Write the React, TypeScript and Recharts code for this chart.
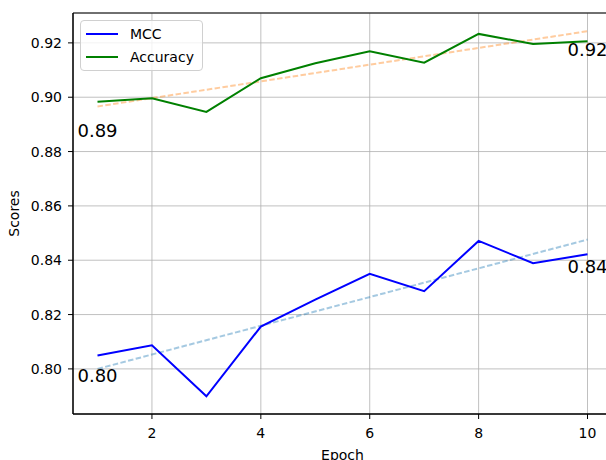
import React from 'react';
import {
  LineChart, Line, XAxis, YAxis, CartesianGrid, ReferenceArea, ReferenceDot,
} from 'recharts';

const epochs = [1, 2, 3, 4, 5, 6, 7, 8, 9, 10];
const mcc = [0.8049, 0.8087, 0.7899, 0.8156, 0.8255, 0.8350, 0.8286, 0.8471, 0.8389, 0.8422];
const accuracy = [0.8983, 0.8996, 0.8946, 0.9070, 0.9125, 0.9169, 0.9127, 0.9233, 0.9196, 0.9206];

// dashed trend lines, read at first and last epoch
const trendEpochs = [1, 10];
const mccTrend = [0.8000, 0.8476];
const accTrend = [0.8966, 0.9243];

const annotX = [1, 10, 1, 10];
const annotY = [0.89, 0.92, 0.80, 0.84];
const annotText = ['0.89', '0.92', '0.80', '0.84'];

const xTicks = [2, 4, 6, 8, 10];
const yTicks = [0.80, 0.82, 0.84, 0.86, 0.88, 0.90, 0.92];
const xDomain = [0.55, 10.45];
const yDomain = [0.7834, 0.931];

const series = [
  { key: 'mcc', name: 'MCC', color: '#0000ff' },
  { key: 'acc', name: 'Accuracy', color: '#008000' },
];

const data = epochs.map((e, i) => ({ epoch: e, mcc: mcc[i], acc: accuracy[i] }));
const mccTrendData = trendEpochs.map((e, i) => ({ epoch: e, v: mccTrend[i] }));
const accTrendData = trendEpochs.map((e, i) => ({ epoch: e, v: accTrend[i] }));

const FONT = 'DejaVu Sans, sans-serif';

function AnnotLabel({ viewBox, text }: any) {
  const x = viewBox.x + (viewBox.width || 0) / 2;
  const y = viewBox.y;
  return (
    <text x={x} y={y + 13} textAnchor="middle" fontSize={18} fontFamily={FONT} fill="#000">
      {text}
    </text>
  );
}

function LegendBox() {
  return (
    <div style={{
      position: 'absolute', left: 80, top: 20, width: 121, height: 49,
      border: '1px solid #d0d0d0', borderRadius: 4, background: 'rgba(255,255,255,0.8)',
      fontFamily: FONT, fontSize: 14, color: '#000',
    }}>
      {series.map((s, i) => (
        <div key={s.key} style={{ position: 'absolute', left: 0, top: 5 + i * 23, height: 16, display: 'flex', alignItems: 'center' }}>
          <svg width={40} height={16} style={{ display: 'block' }}>
            <line x1={5} x2={37} y1={8} y2={8} stroke={s.color} strokeWidth={2} />
          </svg>
          <span style={{ marginLeft: 9, lineHeight: '16px' }}>{s.name}</span>
        </div>
      ))}
    </div>
  );
}

export default function App() {
  return (
    <div style={{ position: 'fixed', left: 0, top: 0, width: 606, height: 460, overflow: 'hidden', background: '#fff' }}>
      <LineChart width={620} height={460} data={data} margin={{ top: 13, right: 8, left: 0, bottom: 0 }}>
        <CartesianGrid stroke="#b0b0b0" strokeWidth={0.8} />
        <XAxis
          dataKey="epoch" type="number" domain={xDomain} ticks={xTicks} allowDataOverflow
          height={46} tickSize={5} tickMargin={9} stroke="#000"
          tick={{ fontSize: 14, fontFamily: FONT, fill: '#000' }}
          label={{ value: 'Epoch', position: 'insideBottom', offset: 0, fontSize: 14, fontFamily: FONT, fill: '#000' }}
        />
        <YAxis
          type="number" domain={yDomain} ticks={yTicks} allowDataOverflow
          width={73} tickSize={5} tickMargin={6} stroke="#000"
          tickFormatter={(v: number) => v.toFixed(2)}
          tick={{ fontSize: 14, fontFamily: FONT, fill: '#000' }}
          label={({ viewBox }: any) => (
            <text x={19} y={viewBox.y + viewBox.height / 2} transform={`rotate(-90 19 ${viewBox.y + viewBox.height / 2})`}
              textAnchor="middle" fontSize={14} fontFamily={FONT} fill="#000">Scores</text>
          )}
        />
        <Line data={mccTrendData} dataKey="v" stroke="#1f77b4" strokeOpacity={0.4} strokeWidth={2}
          strokeDasharray="5.5 2.4" dot={false} activeDot={false} isAnimationActive={false} />
        <Line data={accTrendData} dataKey="v" stroke="#ff7f0e" strokeOpacity={0.4} strokeWidth={2}
          strokeDasharray="5.5 2.4" dot={false} activeDot={false} isAnimationActive={false} />
        {series.map(s => (
          <Line key={s.key} type="linear" dataKey={s.key} stroke={s.color} strokeWidth={2}
            dot={false} activeDot={false} isAnimationActive={false} />
        ))}
        {annotText.map((t, i) => (
          <ReferenceDot key={t + i} x={annotX[i]} y={annotY[i]} r={0} fill="none" stroke="none"
            ifOverflow="visible" label={(p: any) => <AnnotLabel {...p} text={t} />} />
        ))}
        <ReferenceArea x1={xDomain[0]} x2={xDomain[1]} y1={yDomain[0]} y2={yDomain[1]}
          fill="none" stroke="#000" strokeWidth={1} fillOpacity={0} ifOverflow="visible" />
      </LineChart>
      <LegendBox />
    </div>
  );
}
